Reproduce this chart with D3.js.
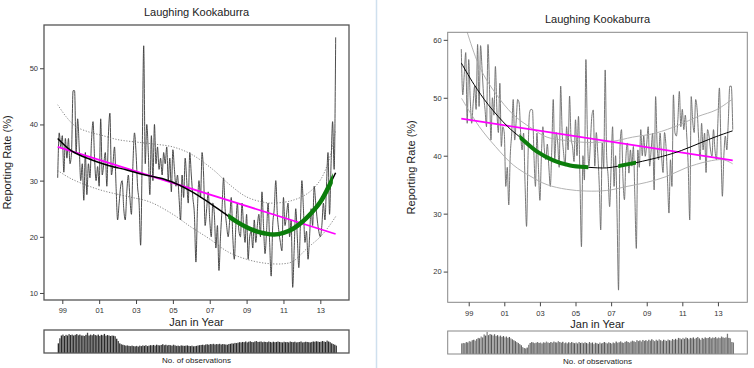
<!DOCTYPE html>
<html><head><meta charset="utf-8">
<script src="https://cdn.jsdelivr.net/npm/d3@7"></script>
<style>body{margin:0;background:#fff}svg{display:block}</style>
</head><body>
<svg id="c" width="754" height="368"></svg>
<script>
// ---------------- DATA ----------------
const chartTitle = "Laughing Kookaburra";
const yLabel = "Reporting Rate (%)";
const xLabel = "Jan in Year";
const obsLabel = "No. of observations";
const xTickYears = [1999, 2001, 2003, 2005, 2007, 2009, 2011, 2013];
const xTickLabels = ["99", "01", "03", "05", "07", "09", "11", "13"];
const yTicksLeft = [10, 20, 30, 40, 50];
const yTicksRight = [20, 30, 40, 50, 60];

// left panel: monthly reporting rate starting Oct 1998
const leftStart = 1998.75;
const leftRate = [
  30.5, 38.5, 36, 38, 31.5, 37.5, 34, 37.5, 33, 35, 46, 46,
  35, 41, 36, 30, 33, 26.5, 35, 27.5, 33, 30.5, 37, 40.5,
  34, 30, 32.5, 29, 41, 31, 33, 35, 29, 38, 42, 31,
  33, 36, 29, 23, 26, 29, 30, 25, 23, 28, 31, 27,
  24, 33, 38.5, 35, 29, 26, 18.5, 34, 54, 33, 40, 35,
  27.5, 38, 30, 40, 33, 36, 32, 34, 31, 35, 33, 36,
  30, 34, 28, 35.5, 32, 29, 31, 27, 23, 31, 27, 34,
  30, 26, 35, 31, 27, 24, 15.5, 25, 30, 27, 35, 31,
  22, 25, 28, 23, 20, 26, 24, 18, 22, 14, 20, 25,
  30.5, 25, 22, 20, 23, 27, 20, 16, 22, 26, 21, 20,
  26, 22, 19, 24, 16, 20, 21, 18, 23, 19, 22, 24,
  20, 28, 22, 17, 21, 26, 19, 13, 22, 25, 30, 24,
  21, 19, 17.5, 27, 22, 24, 26, 20, 23, 11, 18, 25,
  20, 14.5, 22, 30, 25, 19, 21, 16, 20, 25, 22, 29,
  26, 23, 21, 20, 22, 26, 23, 29, 35, 24, 33, 40.5,
  32, 55.5
];
const leftObs = [
  420, 640, 760, 800, 740, 790, 760, 820, 780, 800, 760, 790,
  820, 770, 800, 760, 760, 740, 790, 880, 760, 800, 770, 820,
  780, 760, 800, 740, 790, 770, 830, 750, 780, 760, 740, 760,
  750, 730, 620, 520, 420, 380, 360, 340, 320, 330, 310, 300,
  320, 300, 290, 310, 280, 320, 300, 330, 310, 340, 300, 320,
  340, 330, 350, 320, 360, 340, 330, 350, 380, 340, 360, 330,
  350, 340, 320, 360, 330, 310, 320, 300, 330, 320, 310, 320,
  330, 310, 300, 320, 290, 300, 310, 330, 340, 350, 360, 340,
  370, 380, 360, 390, 380, 400, 370, 390, 380, 400, 370, 390,
  380, 370, 360, 390, 400, 420, 410, 440, 430, 450, 470, 460,
  480, 470, 500, 460, 490, 510, 480, 470, 500, 520, 480, 490,
  500, 470, 490, 480, 470, 500, 480, 460, 490, 470, 480, 500,
  480, 470, 460, 490, 470, 480, 460, 500, 480, 470, 490, 460,
  470, 480, 500, 460, 470, 490, 480, 470, 460, 480, 500, 490,
  510, 500, 480, 490, 520, 500, 480, 540, 500, 470, 420, 390,
  360, 320
];
const leftSmooth = [[1998.75,37.5],[1999.5,35.3],[2000.5,33.8],[2001.5,32.7],[2002.5,31.9],[2003.5,31.0],[2004.5,30.3],[2005.0,29.7],[2006.0,28.1],[2007.0,26.0],[2008.0,23.7],[2008.5,22.6],[2009.0,21.7],[2009.5,21.0],[2010.0,20.6],[2010.5,20.4],[2011.0,20.7],[2011.5,21.4],[2012.0,22.6],[2012.5,24.2],[2013.0,26.2],[2013.5,29.2],[2013.83,31.4]];
const leftUpper = [[1998.75,43.5],[1999.25,41.2],[1999.75,39.6],[2000.5,38.6],[2001.1,38.1],[2002.0,37.3],[2002.9,36.9],[2004.0,36.5],[2005.0,36.0],[2006.0,34.7],[2007.2,31.9],[2008.0,29.5],[2009.0,27.1],[2010.0,26.1],[2010.45,26.0],[2011.4,26.4],[2012.3,27.7],[2013.0,30.1],[2013.5,34.0],[2013.83,39.0]];
const leftLower = [[1998.75,31.8],[1999.5,30.3],[2001.0,28.4],[2002.5,27.2],[2003.75,26.2],[2005.0,24.0],[2006.0,21.7],[2007.0,19.6],[2008.0,17.3],[2009.0,16.0],[2010.0,15.3],[2011.0,15.2],[2011.5,15.6],[2012.3,18.0],[2013.0,20.0],[2013.5,22.0],[2013.83,23.6]];
const leftTrend = [[1998.75,36.0],[2013.83,20.5]];
const leftGreen = [[2008.0, 2013.68]];

// right panel: monthly reporting rate starting Aug 1998
const rightStart = 1998.583;
const rightRate = [
  58.4, 50.5, 54, 57.8, 45.6, 56.6, 50, 45.6, 49, 52, 48, 59.2,
  48.5, 59, 55, 50.6, 48, 45, 59.2, 52, 42.7, 50, 47, 55.4,
  47.9, 44, 52.5, 41.6, 45, 43.9, 34.7, 38, 31.5, 40, 43.9, 49.7,
  42.7, 46, 49.7, 49.1, 44, 41, 43.9, 35, 27.8, 40, 47.4, 48,
  47.9, 40, 34.7, 43.9, 38, 32.3, 40, 45, 41, 39.3, 42, 38.2,
  34.7, 41, 49.7, 39.3, 44, 42.2, 38, 52, 44, 40.4, 38.2, 45,
  41, 50.3, 43, 41.6, 39, 46.2, 40, 46.8, 36, 24.3, 40, 35.8,
  56.6, 43.9, 38.2, 42, 46.8, 47.9, 38.2, 44, 40.4, 35, 27.2, 42.2,
  38, 54.8, 40, 36.4, 31.2, 38, 45, 34.7, 40, 30.1, 16.8, 41.6,
  44.5, 36, 32.4, 39.9, 42.2, 37, 41, 38.2, 41.6, 33, 24, 41,
  38, 44.5, 40, 43.4, 39.9, 42, 45, 38.2, 41, 43.9, 34.1, 50.2,
  42, 39.3, 43.9, 40, 37.1, 44, 41.6, 36, 30.1, 39.3, 34.7, 50.5,
  44, 43.4, 46.2, 51.1, 45, 48, 44.5, 47, 43.4, 38, 28.9, 50.2,
  46, 44, 49.7, 47.9, 43, 39.3, 45.6, 41, 43.9, 37.1, 44.5, 43.4,
  41, 39.9, 44.5, 41, 39.3, 46, 51.7, 42, 33, 40, 43.4, 41,
  46, 52, 52, 44.5
];
const rightObs = [
  460, 480, 470, 520, 500, 560, 540, 600, 620, 580, 650, 700,
  680, 760, 720, 850, 800, 960, 820, 870, 840, 800, 860, 780,
  820, 760, 800, 740, 780, 720, 760, 700, 740, 680, 640, 600,
  560, 520, 480, 430, 380, 300, 260, 240, 280, 400, 480, 520,
  500, 470, 490, 520, 480, 500, 460, 510, 490, 540, 500, 480,
  520, 490, 540, 510, 500, 560, 520, 490, 530, 470, 500, 460,
  510, 480, 520, 490, 470, 500, 460, 520, 480, 500, 470, 510,
  480, 450, 520, 470, 500, 430, 490, 470, 440, 500, 460, 480,
  520, 490, 460, 510, 480, 450, 500, 470, 540, 490, 510, 550,
  500, 480, 530, 560, 520, 490, 540, 580, 550, 520, 600, 560,
  590, 540, 610, 570, 600, 560, 620, 580, 640, 600, 560, 620,
  580, 640, 600, 560, 620, 590, 570, 630, 600, 580, 650, 610,
  660, 620, 700, 680, 640, 700, 660, 720, 690, 640, 700, 680,
  720, 660, 700, 740, 680, 620, 700, 660, 720, 690, 700, 740,
  680, 720, 700, 740, 680, 720, 690, 760, 720, 700, 720, 880,
  700, 680, 520, 500
];
const rightSmooth = [[1998.583,56.0],[1999.3,52.3],[2000.1,48.8],[2001.2,45.0],[2001.88,43.2],[2002.8,40.8],[2003.75,39.2],[2004.7,38.3],[2005.72,38.0],[2006.75,37.9],[2007.4,38.2],[2008.4,38.8],[2009.9,39.9],[2010.95,40.9],[2012.0,42.2],[2012.9,43.3],[2013.83,44.3]];
const rightUpper = [[1998.6,64.5],[1999.6,55.4],[2000.5,50.8],[2001.5,47.1],[2002.5,44.8],[2003.4,43.2],[2004.3,42.7],[2005.6,42.3],[2007.1,42.5],[2008.2,43.2],[2009.5,43.9],[2010.8,45.3],[2011.9,46.8],[2012.9,47.9],[2013.83,49.8]];
const rightLower = [[1998.6,49.9],[1999.6,45.0],[2000.5,41.6],[2001.5,38.4],[2002.5,36.4],[2003.4,35.0],[2004.5,34.2],[2005.6,33.9],[2006.75,34.0],[2007.9,34.7],[2009.0,35.4],[2010.1,36.4],[2011.2,37.9],[2012.4,39.0],[2013.3,39.3],[2013.83,38.6]];
const rightTrend = [[1998.583,46.4],[2013.83,39.2]];
const rightGreen = [[2001.85, 2005.72], [2007.4, 2008.4]];

// ---------------- DRAW ----------------
const svg = d3.select("#c");
const FONT = "'Liberation Sans', Arial, Helvetica, sans-serif";
const monthT = (start, i) => start + i / 12;

svg.append("line").attr("x1", 376.5).attr("x2", 376.5).attr("y1", 0).attr("y2", 368)
  .attr("stroke", "#cfe0ee").attr("stroke-width", 1.5);

function panel(cfg, id) {
  const g = svg.append("g");
  const x = d3.scaleLinear().domain(cfg.xDomain).range([cfg.px0, cfg.px1]);
  const y = d3.scaleLinear().domain(cfg.yDomain).range([cfg.py1, cfg.py0]);
  const clipId = "clip" + id;
  svg.append("defs").append("clipPath").attr("id", clipId)
    .append("rect").attr("x", cfg.px0).attr("y", cfg.py0)
    .attr("width", cfg.px1 - cfg.px0).attr("height", cfg.py1 - cfg.py0);

  const plot = g.append("g").attr("clip-path", `url(#${clipId})`);
  const line = d3.line().x(d => x(d[0])).y(d => y(d[1]));
  const smoothLine = d3.line().x(d => x(d[0])).y(d => y(d[1])).curve(d3.curveCatmullRom.alpha(0.5));
  const seriesLine = d3.line().x(d => x(d[0])).y(d => y(d[1])).curve(d3.curveMonotoneX);

  const series = cfg.rate.map((v, i) => [monthT(cfg.start, i), v]);
  plot.append("path").attr("d", seriesLine(series)).attr("fill", "none")
    .attr("stroke", cfg.seriesColor).attr("stroke-width", 0.9).attr("stroke-linejoin", "round");

  [cfg.upper, cfg.lower].forEach(ci => {
    plot.append("path").attr("d", smoothLine(ci)).attr("fill", "none")
      .attr("stroke", cfg.ciColor).attr("stroke-width", cfg.ciWidth)
      .attr("stroke-dasharray", cfg.ciDash);
  });

  plot.append("path").attr("d", line(cfg.trend)).attr("fill", "none")
    .attr("stroke", "#ff00ff").attr("stroke-width", 1.8);

  plot.append("path").attr("d", smoothLine(cfg.smooth)).attr("fill", "none")
    .attr("stroke", "#000").attr("stroke-width", cfg.smoothWidth);

  cfg.green.forEach((r, k) => {
    const gid = clipId + "g" + k;
    svg.select("defs").append("clipPath").attr("id", gid)
      .append("rect").attr("x", x(r[0])).attr("y", cfg.py0)
      .attr("width", x(r[1]) - x(r[0])).attr("height", cfg.py1 - cfg.py0);
    plot.append("path").attr("d", smoothLine(cfg.smooth)).attr("fill", "none")
      .attr("clip-path", `url(#${gid})`)
      .attr("stroke", "#0b7d0b").attr("stroke-width", cfg.greenWidth);
  });

  // frame
  g.append("rect").attr("x", cfg.px0).attr("y", cfg.py0)
    .attr("width", cfg.px1 - cfg.px0).attr("height", cfg.py1 - cfg.py0)
    .attr("fill", "none").attr("stroke", cfg.frameColor).attr("stroke-width", cfg.frameWidth);

  // y axis
  const ya = g.append("g").attr("transform", `translate(${cfg.px0},0)`)
    .call(d3.axisLeft(y).tickValues(cfg.yTicks).tickSize(4).tickPadding(2).tickSizeOuter(0));
  ya.select(".domain").remove();
  ya.selectAll("line").attr("stroke", "#444");
  ya.selectAll("text").attr("font-family", FONT).attr("font-size", 7.5).attr("fill", "#333");

  // x axis
  const xa = g.append("g").attr("transform", `translate(0,${cfg.py1})`)
    .call(d3.axisBottom(x).tickValues(xTickYears).tickFormat((d, i) => xTickLabels[i])
      .tickSize(4).tickPadding(4).tickSizeOuter(0));
  xa.select(".domain").remove();
  xa.selectAll("line").attr("stroke", "#444");
  xa.selectAll("text").attr("font-family", FONT).attr("font-size", 7.5).attr("fill", "#333");

  const cx = (cfg.px0 + cfg.px1) / 2;
  g.append("text").attr("x", cx).attr("y", cfg.titleY).attr("text-anchor", "middle")
    .attr("font-family", FONT).attr("font-size", 11).attr("fill", "#222").text(chartTitle);
  g.append("text").attr("x", cx).attr("y", cfg.xLabelY).attr("text-anchor", "middle")
    .attr("font-family", FONT).attr("font-size", 11).attr("fill", "#222").text(xLabel);
  g.append("text").attr("transform", `translate(${cfg.yLabelX},${(cfg.py0 + cfg.py1) / 2}) rotate(-90)`)
    .attr("text-anchor", "middle").attr("font-family", FONT).attr("font-size", 11)
    .attr("fill", "#222").text(yLabel);

  // observations strip
  const yb = d3.scaleLinear().domain([0, 1000]).range([cfg.by1, cfg.by0]);
  const bw = x(cfg.start + 1 / 12) - x(cfg.start);
  g.append("g").selectAll("rect").data(cfg.obs).join("rect")
    .attr("x", (d, i) => x(monthT(cfg.start, i)))
    .attr("width", bw * 0.85)
    .attr("y", d => yb(d)).attr("height", d => yb(0) - yb(d))
    .attr("fill", (d, i) => cfg.barColors[i % cfg.barColors.length]);
  g.append("rect").attr("x", cfg.px0).attr("y", cfg.by0)
    .attr("width", cfg.px1 - cfg.px0).attr("height", cfg.by1 - cfg.by0)
    .attr("fill", "none").attr("stroke", cfg.frameColor).attr("stroke-width", cfg.frameWidth);
  g.append("text").attr("x", cx).attr("y", cfg.obsLabelY).attr("text-anchor", "middle")
    .attr("font-family", FONT).attr("font-size", 8).attr("fill", "#222").text(obsLabel);
}

panel({
  px0: 44, px1: 349, py0: 25, py1: 300,
  xDomain: [1998.007, 2014.556], yDomain: [8.75, 57.7],
  start: leftStart, rate: leftRate, obs: leftObs,
  smooth: leftSmooth, upper: leftUpper, lower: leftLower, trend: leftTrend, green: leftGreen,
  yTicks: yTicksLeft, seriesColor: "#3a3a3a", ciColor: "#666", ciWidth: 0.8, ciDash: "1.2,1.6",
  smoothWidth: 1.5, greenWidth: 4.5, frameColor: "#555", frameWidth: 1.3,
  titleY: 16, xLabelY: 326, yLabelX: 11, by0: 330, by1: 353, obsLabelY: 363,
  barColors: ["#2a2a2a", "#444"]
}, "L");

panel({
  px0: 447.7, px1: 747.3, py0: 32.3, py1: 302.3,
  xDomain: [1997.82, 2014.65], yDomain: [14.7, 61.3],
  start: rightStart, rate: rightRate, obs: rightObs,
  smooth: rightSmooth, upper: rightUpper, lower: rightLower, trend: rightTrend, green: rightGreen,
  yTicks: yTicksRight, seriesColor: "#6a6a6a", ciColor: "#aaa", ciWidth: 0.9, ciDash: null,
  smoothWidth: 1, greenWidth: 4, frameColor: "#888", frameWidth: 1,
  titleY: 23, xLabelY: 328, yLabelX: 415, by0: 331, by1: 354, obsLabelY: 364,
  barColors: ["#555", "#888", "#666", "#777"]
}, "R");
</script>
</body></html>
